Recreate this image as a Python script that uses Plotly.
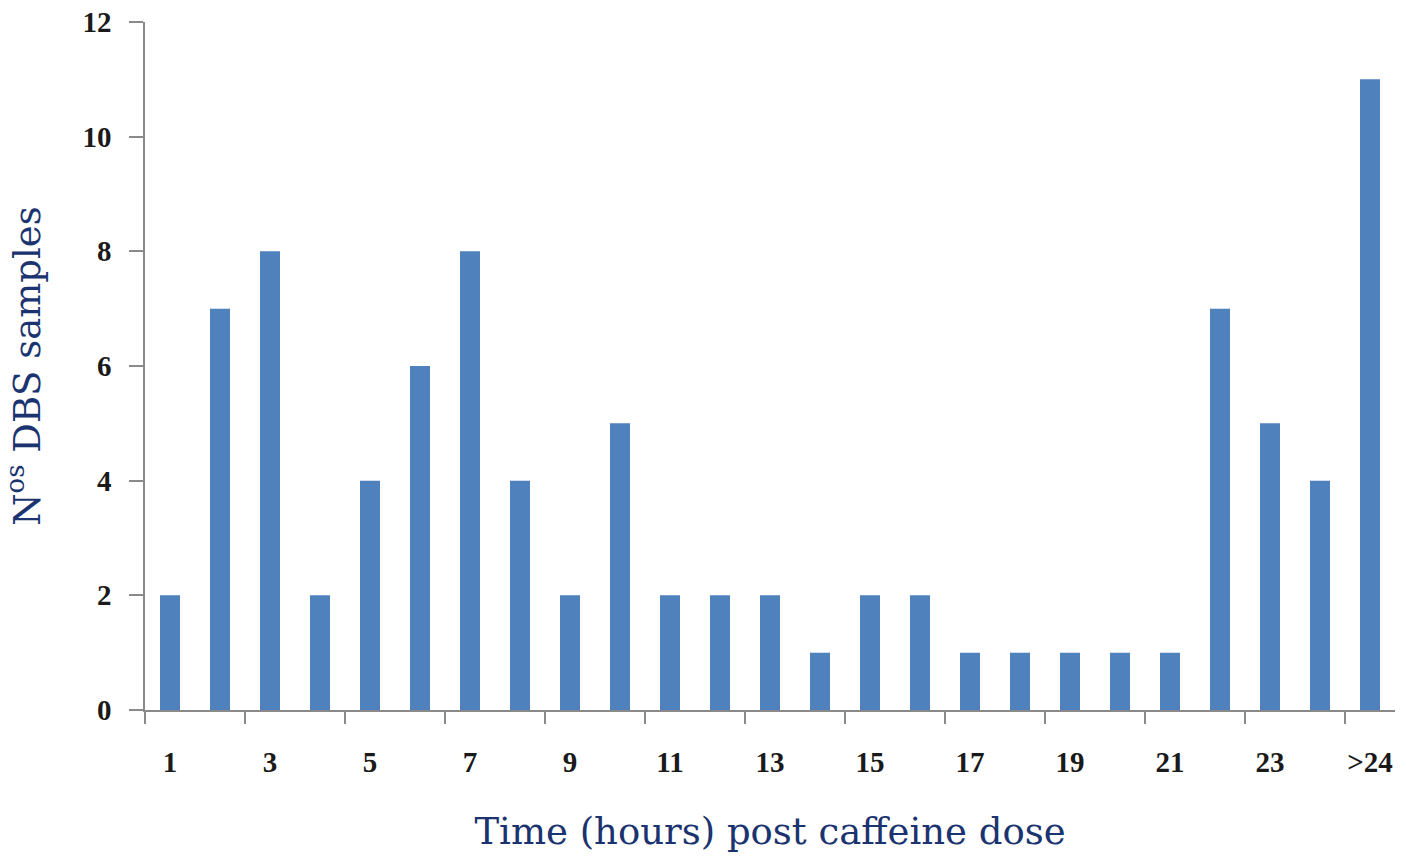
import plotly.graph_objects as go

categories = [str(i) for i in range(1, 25)] + [">24"]
samples = [2, 7, 8, 2, 4, 6, 8, 4, 2, 5, 2, 2, 2, 1, 2, 2, 1, 1, 1, 1, 1, 7, 5, 4, 11]
label_positions = list(range(1, 26, 2))
label_text = [categories[i - 1] for i in label_positions]
boundary_ticks = [0.5 + 2 * k for k in range(13)]
y_ticks = [0, 2, 4, 6, 8, 10, 12]

x_pos = list(range(1, 26))

fig = go.Figure(
    go.Bar(x=x_pos, y=samples, marker=dict(color="#4F81BD", line=dict(width=0)),
           hovertext=categories)
)

tick_font = dict(family="Liberation Serif", size=29, color="#1a1a1a", weight="bold")
title_color = "#1B3470"

fig.update_layout(
    width=1406, height=856,
    margin=dict(l=145, r=11, t=22, b=146),
    paper_bgcolor="white", plot_bgcolor="white",
    bargap=0.6,
    showlegend=False,
    xaxis=dict(
        range=[0.5, 25.5], tickmode="array", tickvals=label_positions, ticktext=label_text,
        ticks="", showgrid=False, zeroline=False,
        showline=True, linecolor="#8a8a8a", linewidth=1.5,
        tickfont=tick_font, ticklabelstandoff=25,
        minor=dict(tickmode="array", tickvals=boundary_ticks, ticks="outside",
                   ticklen=12, tickcolor="#8a8a8a", tickwidth=1.5, showgrid=False),
        title=dict(text="Time (hours) post caffeine dose",
                   font=dict(family="DejaVu Serif", size=37, color=title_color),
                   standoff=42),
        automargin=False,
    ),
    yaxis=dict(
        range=[0, 12], tickmode="array", tickvals=y_ticks,
        ticks="outside", ticklen=14, tickcolor="#8a8a8a", tickwidth=1.5,
        showgrid=False, zeroline=False,
        showline=True, linecolor="#8a8a8a", linewidth=1.5,
        tickfont=tick_font, ticklabelstandoff=12,
        title=dict(text="N<sup>os</sup> DBS samples",
                   font=dict(family="DejaVu Serif", size=37, color=title_color),
                   standoff=31),
        automargin=False,
    ),
)

fig.write_html("out.html")
